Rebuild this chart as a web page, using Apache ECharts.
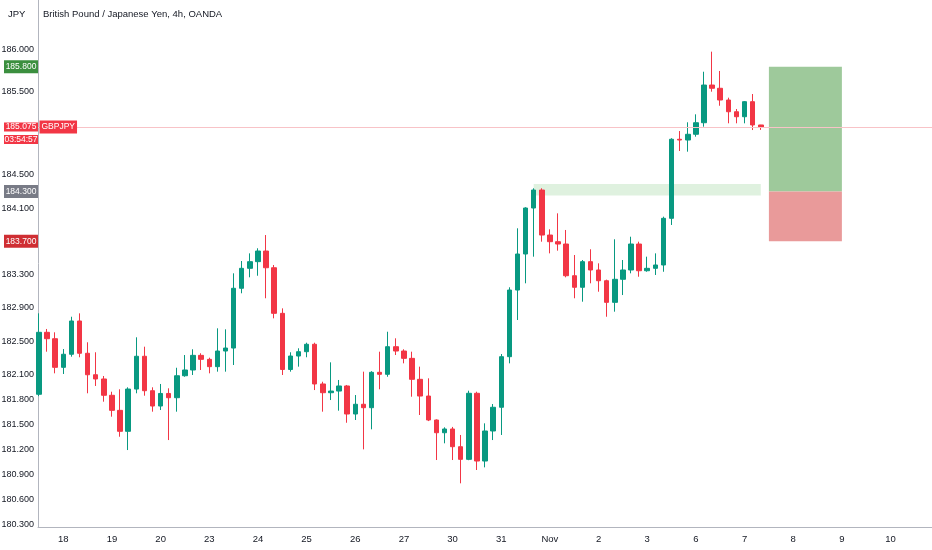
<!DOCTYPE html>
<html><head><meta charset="utf-8">
<script src="https://cdn.jsdelivr.net/npm/echarts@6/dist/echarts.min.js"></script>
<style>html,body{margin:0;padding:0;background:#fff}#c{width:932px;height:550px}</style>
</head><body><div id="c"></div>
<script>
// ---- data ----
const firstCandle = -3; // candle index of the first visible 4h bar (Oct 18 00:00 = 0)
const opens  = [181.862,182.607,182.530,182.186,182.343,182.743,182.355,182.097,182.046,181.850,181.669,181.417,181.925,182.319,181.905,181.721,181.872,181.821,182.085,182.154,182.330,182.282,182.194,182.382,182.418,183.136,183.376,183.456,183.584,183.383,182.835,182.160,182.322,182.374,182.463,181.986,181.881,181.901,181.962,181.625,181.742,181.701,182.126,182.102,182.434,182.382,182.294,182.042,181.841,181.553,181.400,181.445,181.232,181.080,181.874,181.060,181.421,181.706,182.314,183.115,183.548,184.101,184.317,183.776,183.696,183.668,183.287,183.148,183.456,183.356,183.227,182.967,183.244,183.356,183.668,183.347,183.376,183.416,183.977,184.927,184.918,184.987,185.126,185.579,185.540,185.399,185.258,185.198,185.379,185.099];
const closes = [182.607,182.530,182.186,182.343,182.743,182.355,182.097,182.046,181.850,181.669,181.417,181.925,182.319,181.905,181.721,181.872,181.821,182.085,182.154,182.330,182.282,182.194,182.382,182.418,183.136,183.376,183.456,183.584,183.383,182.835,182.160,182.322,182.374,182.463,181.986,181.881,181.901,181.962,181.625,181.742,181.701,182.126,182.102,182.434,182.382,182.294,182.042,181.841,181.553,181.400,181.445,181.232,181.080,181.874,181.060,181.421,181.706,182.314,183.115,183.548,184.101,184.317,183.776,183.696,183.668,183.287,183.148,183.456,183.356,183.227,182.967,183.244,183.356,183.668,183.347,183.376,183.416,183.977,184.927,184.918,184.987,185.126,185.579,185.540,185.399,185.258,185.198,185.379,185.099,185.075];
const lows   = [181.840,182.374,182.114,182.106,182.314,182.307,181.874,181.962,181.773,181.593,181.352,181.192,181.874,181.845,181.653,181.673,181.312,181.653,182.073,182.094,182.154,182.114,182.134,182.134,182.214,183.076,183.268,183.287,183.016,182.775,182.094,182.134,182.194,182.307,181.913,181.653,181.793,181.665,181.520,181.553,181.200,181.441,181.922,182.073,182.334,182.234,181.833,181.613,181.540,181.072,181.273,181.072,180.792,181.070,180.952,180.984,181.312,181.373,182.234,182.755,183.196,183.516,183.696,183.556,183.588,183.268,183.016,182.975,183.196,183.095,182.794,182.855,183.055,183.316,183.275,183.335,183.296,183.335,183.897,184.786,184.778,184.958,185.078,185.499,185.330,185.119,185.119,185.119,185.038,185.040];
const highs  = [182.835,182.647,182.607,182.406,182.794,182.835,182.487,182.367,182.082,181.893,181.922,181.946,182.547,182.434,181.946,181.986,181.934,182.181,182.334,182.403,182.355,182.302,182.655,182.643,183.316,183.464,183.556,183.617,183.776,183.416,182.895,182.367,182.415,182.482,182.482,182.013,182.246,182.034,181.974,181.853,182.134,182.140,182.374,182.614,182.535,182.403,182.374,182.194,182.054,181.560,181.465,181.470,181.373,181.905,181.893,181.513,181.745,182.346,183.148,183.857,184.110,184.338,184.338,183.845,184.037,183.837,183.536,183.476,183.605,183.436,183.240,183.725,183.476,183.756,183.696,183.516,183.556,183.997,184.940,185.026,185.131,185.227,185.739,185.980,185.748,185.427,185.291,185.387,185.471,185.100];
const dayLabels = ['18','19','20','23','24','25','26','27','30','31','Nov','2','3','6','7','8','9','10'];
const candlesPerDay = 6;
const priceTicks = [186.0,185.5,184.5,184.1,183.3,182.9,182.5,182.1,181.8,181.5,181.2,180.9,180.6,180.3];
const currentPrice = 185.075;
const countdown = '03:54:57';
const symbolName = 'GBPJPY';
const supportZoneX = [58, 86];
const supportZoneY = [184.25, 184.39];
const positionX = [87, 96];
const positionLevels = [185.8, 184.3, 183.7]; // target, entry, stop
const tagValues = [185.8, 184.3, 183.7, currentPrice];
const tagStyles = ['g', 'k', 'd', 'r'];

// ---- chart ----
const FONT = "'Liberation Sans',Arial,sans-serif";
const xMin = -3.12, xMax = 107.11, yMin = 180.267, yMax = 186.601;
const candles = opens.map((o, k) => [firstCandle + k, o, closes[k], lows[k], highs[k]]);
const UP = '#089981', DOWN = '#f23645';
const tagBase = {color: '#fff', fontSize: 8.5, width: 34, align: 'center', padding: [2, 0, 2, 0], fontFamily: FONT};

const chart = echarts.init(document.getElementById('c'), null, {renderer: 'canvas'});
chart.setOption({
  animation: false,
  backgroundColor: '#ffffff',
  textStyle: {fontFamily: FONT},
  title: [
    {text: 'British Pound / Japanese Yen, 4h, OANDA', left: 43, top: 9, padding: 0,
     textStyle: {fontSize: 9.5, fontWeight: 'normal', color: '#131722', fontFamily: FONT}},
    {text: 'JPY', left: 8, top: 9, padding: 0,
     textStyle: {fontSize: 9.5, fontWeight: 'normal', color: '#131722', fontFamily: FONT}}
  ],
  grid: {left: 38, right: 0, top: 0, bottom: 23, containLabel: false, outerBoundsMode: 'none'},
  xAxis: {
    type: 'value', min: xMin, max: xMax,
    axisLine: {show: true, onZero: false, lineStyle: {color: '#b2b5be'}},
    axisTick: {show: false}, splitLine: {show: false},
    axisLabel: {
      customValues: dayLabels.map((_, k) => k * candlesPerDay),
      formatter: v => dayLabels[Math.round(v / candlesPerDay)],
      color: '#131722', fontSize: 9.5, margin: 7, fontFamily: FONT
    }
  },
  yAxis: [
    {
      type: 'value', min: yMin, max: yMax, position: 'left',
      axisLine: {show: true, onZero: false, lineStyle: {color: '#b2b5be'}},
      axisTick: {show: false}, splitLine: {show: false},
      axisLabel: {customValues: priceTicks, formatter: v => v.toFixed(3),
        color: '#131722', fontSize: 9, margin: 4, fontFamily: FONT}
    },
    {
      type: 'value', min: yMin, max: yMax, position: 'left',
      axisLine: {show: false, onZero: false}, axisTick: {show: false}, splitLine: {show: false},
      axisLabel: {
        customValues: tagValues, margin: 0, fontFamily: FONT,
        formatter: v => {
          const k = tagValues.findIndex(t => Math.abs(t - v) < 1e-6);
          const s = tagStyles[k < 0 ? 0 : k];
          const txt = v.toFixed(3);
          if (s === 'r') return '{sp|' + txt + '}\n{r|' + txt + '}\n{r|' + countdown + '}';
          return '{' + s + '|' + txt + '}';
        },
        rich: {
          g: Object.assign({}, tagBase, {backgroundColor: '#3b8f3f'}),
          k: Object.assign({}, tagBase, {backgroundColor: '#787b86'}),
          d: Object.assign({}, tagBase, {backgroundColor: '#cf2e33'}),
          r: Object.assign({}, tagBase, {backgroundColor: '#f23645', lineHeight: 12.5, padding: [0, 0, 0, 0]}),
          sp: Object.assign({}, tagBase, {color: 'rgba(0,0,0,0)', lineHeight: 12.5, padding: [0, 0, 0, 0]})
        }
      }
    }
  ],
  series: [{
    type: 'candlestick',
    data: candles,
    encode: {x: 0, y: [1, 2, 3, 4]},
    clip: true,
    barWidth: 5,
    itemStyle: {color: UP, color0: DOWN, borderColor: UP, borderColor0: DOWN, borderWidth: 1},
    markArea: {
      silent: true,
      data: [
        [{coord: [supportZoneX[0], supportZoneY[1]], itemStyle: {color: 'rgba(76,175,80,0.18)'}},
         {coord: [supportZoneX[1], supportZoneY[0]]}],
        [{coord: [positionX[0], positionLevels[0]], itemStyle: {color: '#9ec99b'}},
         {coord: [positionX[1], positionLevels[1]]}],
        [{coord: [positionX[0], positionLevels[1]], itemStyle: {color: '#e99a9a'}},
         {coord: [positionX[1], positionLevels[2]]}]
      ]
    },
    markLine: {
      silent: true, symbol: 'none',
      label: {show: false},
      lineStyle: {color: '#f8c3c7', type: 'solid', width: 1, opacity: 1},
      data: [{yAxis: currentPrice}]
    },
    markPoint: {
      silent: true,
      data: [{
        coord: [xMin, currentPrice], symbol: 'rect', symbolSize: 1,
        itemStyle: {color: 'rgba(0,0,0,0)'},
        label: {show: true, position: 'right', distance: 1, formatter: symbolName,
          backgroundColor: '#f23645', color: '#fff', padding: [2, 2, 2, 2], fontSize: 8.5, fontFamily: FONT}
      }]
    }
  }]
});
</script>
</body></html>
